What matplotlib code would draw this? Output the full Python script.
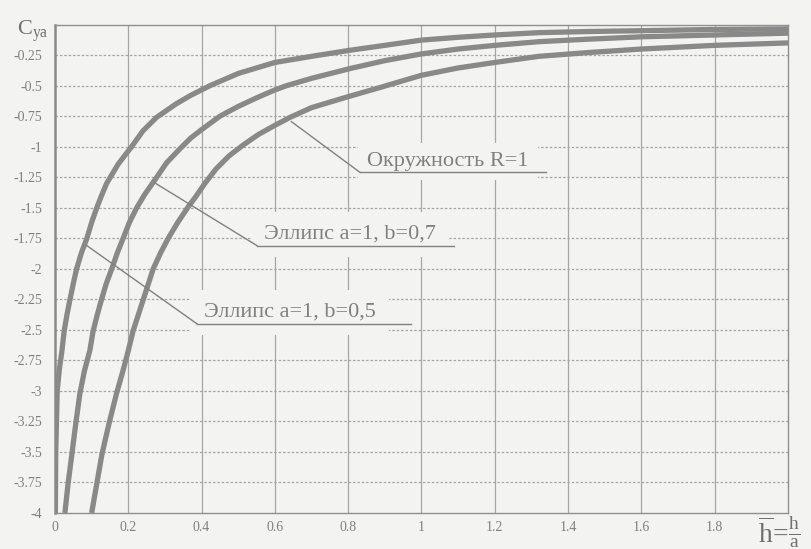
import numpy as np
import matplotlib

matplotlib.use("Agg")
import matplotlib.pyplot as plt

# --- данные ---
# эллипс a=1, b=0.5 (левая кривая)
x_b05 = [0.001, 0.002, 0.006, 0.012, 0.019, 0.025, 0.033, 0.041, 0.05, 0.059, 0.072, 0.087,
         0.1, 0.114, 0.127, 0.141, 0.173, 0.209, 0.24, 0.277, 0.33, 0.37, 0.423, 0.5, 0.6,
         0.7, 0.805, 0.9, 1.0, 1.1, 1.2, 1.32, 1.45, 1.6, 1.8, 2.0]
y_b05 = [-4.0, -3.5, -3.0, -2.82, -2.67, -2.51, -2.37, -2.25, -2.12, -2.0, -1.87, -1.75,
         -1.62, -1.5, -1.4, -1.3, -1.14, -1.0, -0.87, -0.76, -0.65, -0.58, -0.5, -0.4, -0.31,
         -0.26, -0.21, -0.17, -0.127, -0.104, -0.085, -0.066, -0.057, -0.05, -0.04, -0.035]

# эллипс a=1, b=0.7 (средняя)
x_b07 = [0.027, 0.036, 0.046, 0.057, 0.068, 0.08, 0.095, 0.104, 0.115, 0.127, 0.14, 0.155,
         0.17, 0.186, 0.203, 0.223, 0.245, 0.273, 0.305, 0.34, 0.37, 0.4, 0.45, 0.5, 0.55,
         0.6, 0.632, 0.7, 0.805, 0.9, 1.0, 1.1, 1.2, 1.32, 1.45, 1.6, 1.8, 2.0]
y_b07 = [-4.0, -3.75, -3.52, -3.26, -3.02, -2.84, -2.67, -2.51, -2.38, -2.25, -2.12, -2.0,
         -1.87, -1.75, -1.62, -1.5, -1.39, -1.27, -1.13, -1.02, -0.93, -0.86, -0.75, -0.67,
         -0.6, -0.535, -0.5, -0.44, -0.36, -0.295, -0.24, -0.2, -0.17, -0.14, -0.12, -0.10,
         -0.085, -0.07]

# окружность R=1 (правая)
x_r1 = [0.10, 0.114, 0.128, 0.148, 0.168, 0.185, 0.2, 0.213, 0.227, 0.241, 0.255, 0.268,
        0.288, 0.309, 0.335, 0.364, 0.385, 0.409, 0.44, 0.475, 0.514, 0.555, 0.6, 0.641,
        0.7, 0.8, 0.887, 1.0, 1.1, 1.2, 1.32, 1.45, 1.6, 1.8, 2.0]
y_r1 = [-4.0, -3.76, -3.52, -3.26, -3.02, -2.84, -2.67, -2.51, -2.38, -2.25, -2.12, -2.0,
        -1.87, -1.75, -1.62, -1.49, -1.405, -1.3, -1.18, -1.075, -0.985, -0.9, -0.825,
        -0.76, -0.68, -0.59, -0.515, -0.415, -0.355, -0.31, -0.26, -0.23, -0.20, -0.17,
        -0.15]

x_ticks = [0, 0.2, 0.4, 0.6, 0.8, 1.0, 1.2, 1.4, 1.6, 1.8]
x_labels = ["0", "0.2", "0.4", "0.6", "0.8", "1", "1.2", "1.4", "1.6", "1.8"]
y_ticks = [-0.25 * k for k in range(1, 17)]
y_labels = ["-0.25", "-0.5", "-0.75", "-1", "-1.25", "-1.5", "-1.75", "-2", "-2.25", "-2.5",
            "-2.75", "-3", "-3.25", "-3.5", "-3.75", "-4"]

label_r1 = "Окружность R=1"
label_b07 = "Эллипс a=1, b=0,7"
label_b05 = "Эллипс a=1, b=0,5"

plt.rcParams["font.family"] = ["Liberation Serif", "DejaVu Serif"]
plt.rcParams["mathtext.fontset"] = "custom"
plt.rcParams["mathtext.rm"] = "Liberation Serif"
plt.rcParams["mathtext.it"] = "Liberation Serif:italic"

bg = "#f3f3f1"
curve_c = "#898989"
text_c = "#808080"
grid_c = "#a6a6a6"

fig = plt.figure(figsize=(8.12, 5.49), dpi=100, facecolor=bg)
ax = fig.add_axes([55 / 812, 1 - 513 / 549, (788 - 55) / 812, (513 - 24.6) / 549])
ax.set_facecolor(bg)

ax.set_xlim(0, 2)
ax.set_ylim(-4, 0)

# сетка: вертикальные сплошные, горизонтальные пунктир
for xv in x_ticks[1:]:
    ax.axvline(xv, color=grid_c, linewidth=0.9, zorder=1)
for yv in y_ticks[:-1]:
    ax.axhline(yv, color=grid_c, linewidth=0.9, linestyle=(0, (2, 1.5)), zorder=1)

for xs, ys in [(x_b05, y_b05), (x_b07, y_b07), (x_r1, y_r1)]:
    ax.plot(xs, ys, color=curve_c, linewidth=3.8, solid_capstyle="butt",
            solid_joinstyle="round", zorder=3)

ax.set_xticks(x_ticks)
ax.set_xticklabels(x_labels)
ax.set_yticks(y_ticks)
ax.set_yticklabels(y_labels)
ax.tick_params(length=0, labelsize=10, labelcolor=text_c)
ax.tick_params(axis="y", pad=9)
ax.tick_params(axis="x", pad=6)
for side in ["top", "right", "bottom"]:
    ax.spines[side].set_color("#8f8f8f")
    ax.spines[side].set_linewidth(1.0)
ax.spines["left"].set_color("#8a8a8a")
ax.spines["left"].set_linewidth(1.8)


def label(text, xy_text, x_end, target_x, xs, ys, box):
    # подпись с подчёркиванием и выноской к кривой
    tx, ty = xy_text
    ax.text(tx + 0.02, ty + 0.055, text, fontsize=16, color=text_c, ha="left", va="baseline",
            zorder=4, bbox=dict(boxstyle="square,pad=%s" % box, facecolor=bg, edgecolor="none"))
    ax.plot([tx, x_end], [ty, ty], color=text_c, linewidth=1.0, zorder=5)
    cy = np.interp(target_x, xs, ys)
    ax.plot([target_x, tx], [cy - 0.04, ty], color=text_c, linewidth=1.0, zorder=5)


label(label_r1, (0.832, -1.21), 1.34, 0.645, x_r1, y_r1, 0.4)
label(label_b07, (0.551, -1.81), 1.09, 0.275, x_b07, y_b07, 0.6)
label(label_b05, (0.387, -2.45), 0.97, 0.085, x_b05, y_b05, 0.6)

fig.text(17 / 812, 1 - 35 / 549, r"$\mathrm{C}_{\mathrm{ya}}$", fontsize=16, color="#707070",
         ha="left", va="baseline")
fig.text(758 / 812, 1 - 532 / 549, r"$\overline{\mathrm{h}}\!=\!\frac{\mathrm{h}}{\mathrm{a}}$",
         fontsize=20, color="#707070", ha="left", va="center")

fig.savefig("out.png", dpi=100, facecolor=bg)
